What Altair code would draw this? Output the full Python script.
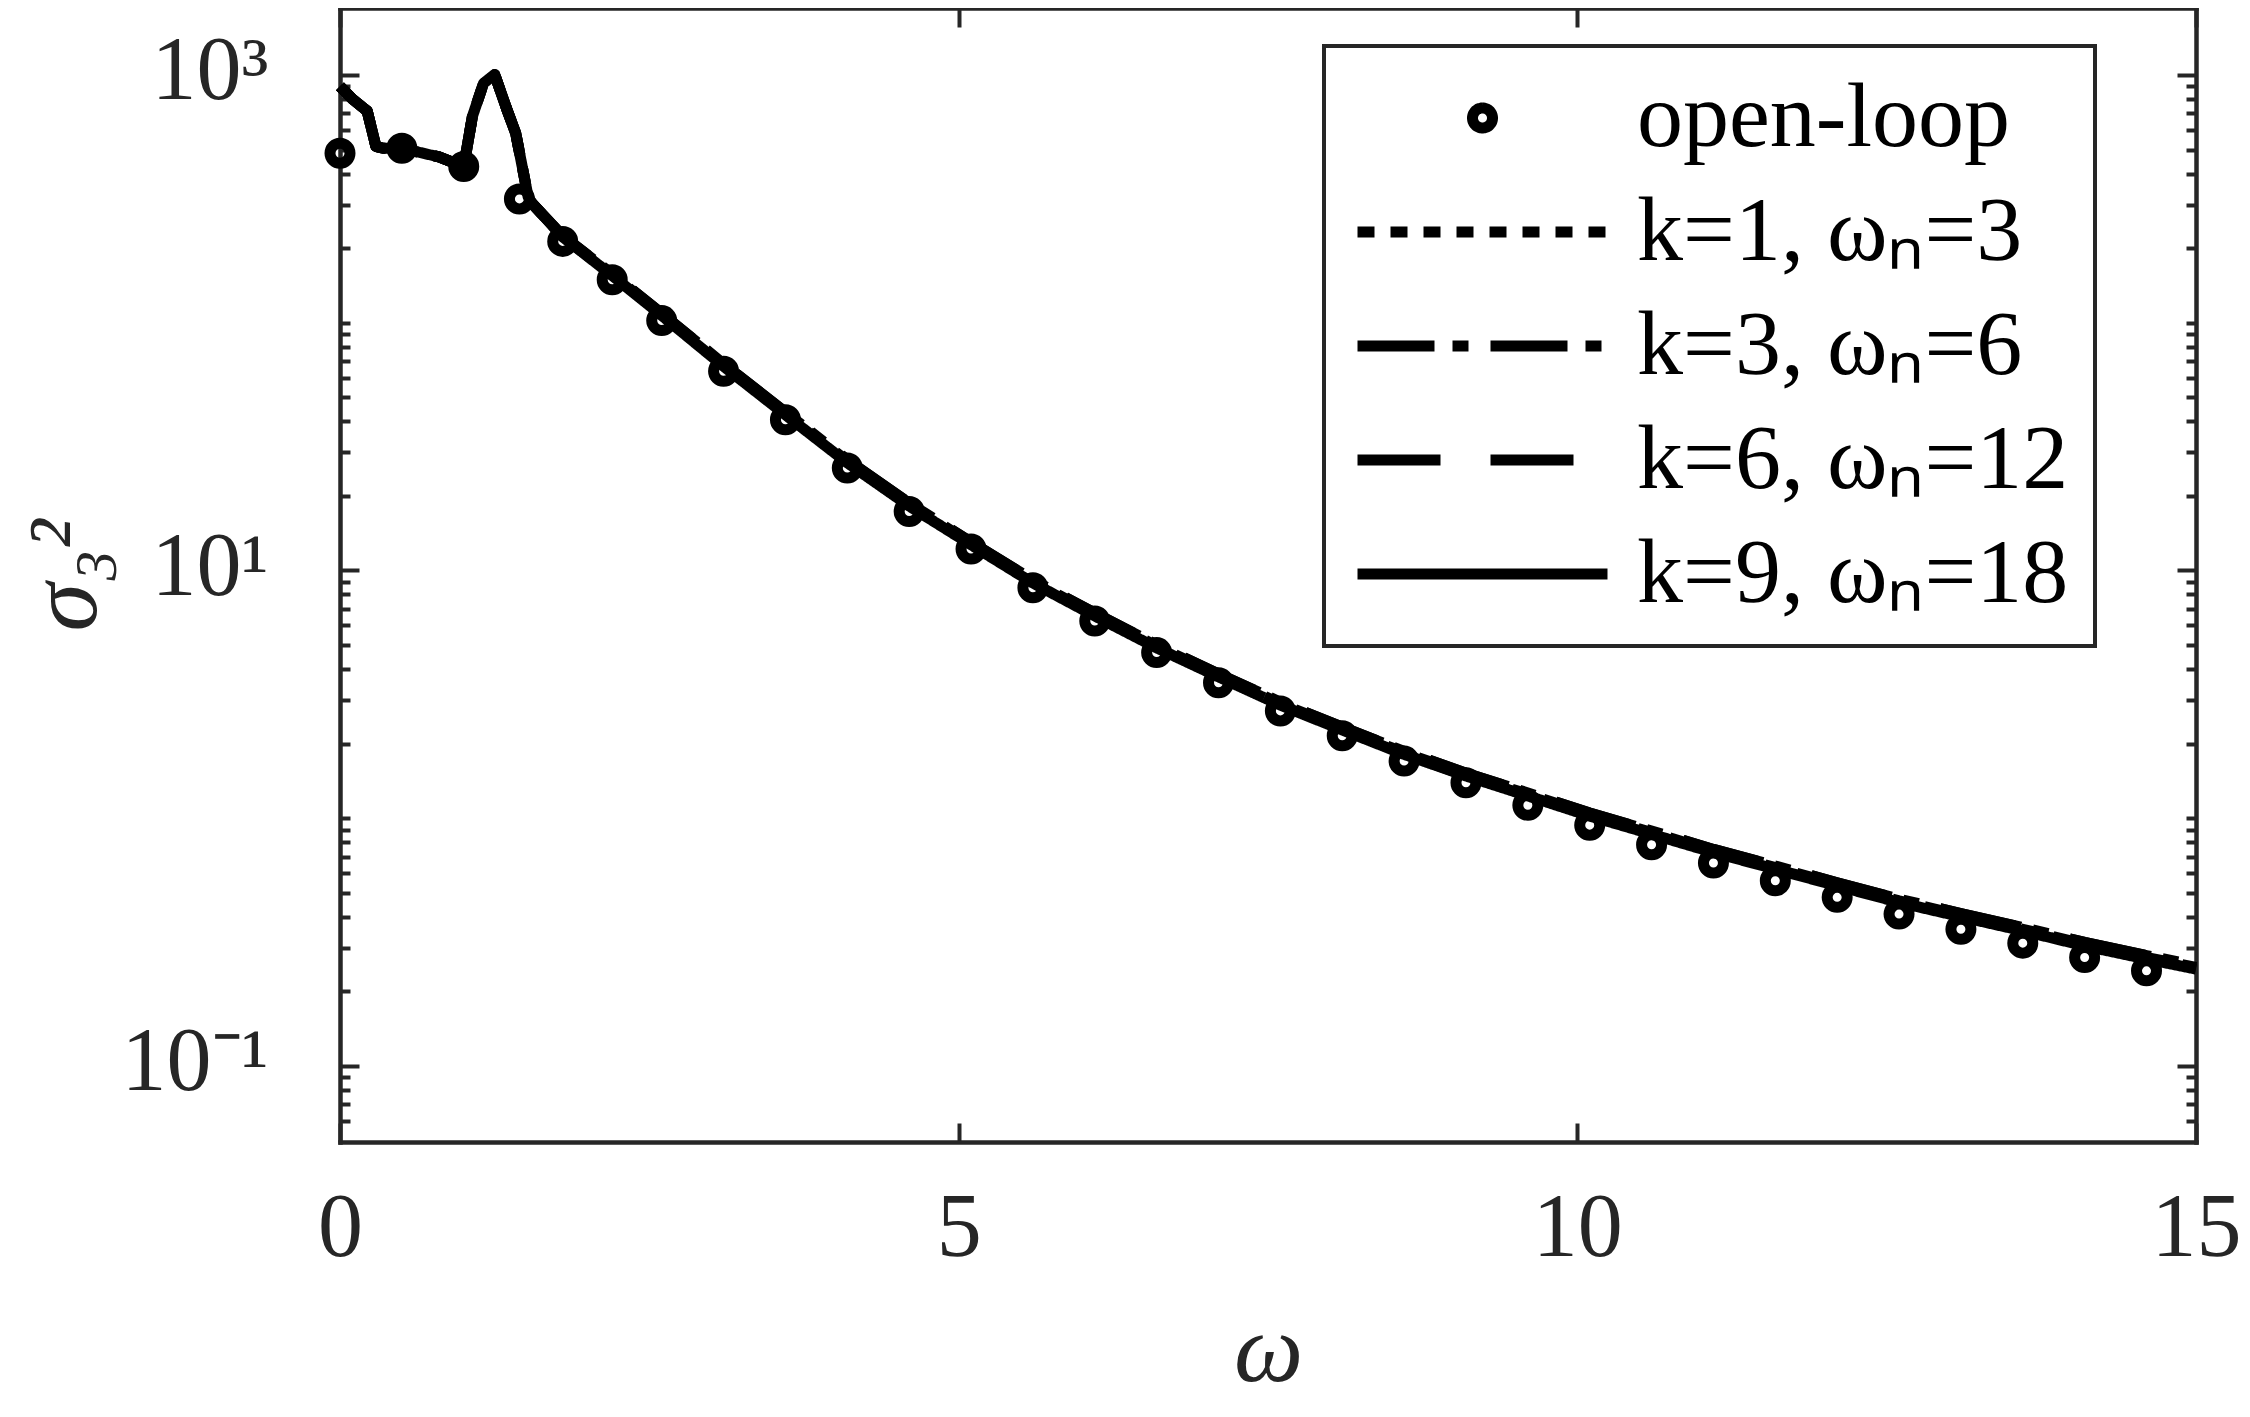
import altair as alt
import pandas as pd

# ---------------- data ----------------
omega_line = [0.0, 0.1, 0.22, 0.29, 0.35, 0.5, 0.8, 1.0, 1.07, 1.16, 1.25, 1.35, 1.42,
              1.52, 1.55, 1.8, 2.2, 2.6, 3.1, 3.6, 4.1, 4.6, 5.1, 5.6, 6.1, 6.6, 7.1,
              7.6, 8.1, 8.6, 9.1, 9.6, 10.1, 10.6, 11.1, 11.6, 12.1, 12.6, 13.1, 13.6,
              14.1, 14.6, 15.0]
sigma_k1 = [900, 800, 715, 515, 506, 506, 467, 427, 680, 926, 1005, 723, 582,
            323, 304, 223, 156, 108, 67.5, 43.0, 27.6, 18.5, 12.9, 9.05, 6.65, 4.95, 3.78,
            2.90, 2.30, 1.84, 1.50, 1.25, 1.035, 0.875, 0.738, 0.632, 0.541, 0.464, 0.406,
            0.356, 0.310, 0.274, 0.250]
sigma_k3 = [900, 800, 715, 515, 506, 506, 467, 427, 680, 926, 1005, 723, 582,
            323, 304, 224, 157, 109, 68.2, 43.5, 27.9, 18.7, 13.0, 9.15, 6.72, 5.00, 3.82,
            2.94, 2.33, 1.86, 1.52, 1.265, 1.05, 0.887, 0.748, 0.641, 0.549, 0.471, 0.412,
            0.362, 0.315, 0.279, 0.254]
sigma_k6 = [900, 800, 715, 515, 506, 506, 467, 427, 680, 926, 1005, 723, 582,
            323, 304, 224, 157, 109, 68.2, 43.5, 27.9, 18.7, 13.0, 9.15, 6.72, 5.00, 3.82,
            2.94, 2.33, 1.86, 1.52, 1.265, 1.05, 0.887, 0.748, 0.641, 0.549, 0.471, 0.412,
            0.362, 0.315, 0.279, 0.254]
sigma_k9 = [900, 800, 715, 515, 506, 506, 467, 427, 680, 926, 1005, 723, 582,
            323, 304, 222, 155, 107, 66.7, 42.5, 27.2, 18.2, 12.7, 8.9, 6.55, 4.87, 3.72,
            2.86, 2.27, 1.81, 1.48, 1.23, 1.02, 0.862, 0.727, 0.623, 0.533, 0.457, 0.40,
            0.351, 0.305, 0.270, 0.246]

omega_open = [0.0, 0.5, 1.0, 1.45, 1.8, 2.2, 2.6, 3.1, 3.6, 4.1, 4.6, 5.1, 5.6, 6.1,
              6.6, 7.1, 7.6, 8.1, 8.6, 9.1, 9.6, 10.1, 10.6, 11.1, 11.6, 12.1, 12.6,
              13.1, 13.6, 14.1, 14.6]
sigma_open = [483, 506, 427, 316, 213, 149, 102, 63.7, 40.6, 25.9, 17.3, 12.2, 8.51,
              6.25, 4.66, 3.52, 2.71, 2.15, 1.70, 1.39, 1.128, 0.937, 0.781, 0.659,
              0.559, 0.479, 0.410, 0.356, 0.313, 0.274, 0.242]

series_names = ["open-loop", "k=1, ωₙ=3", "k=3, ωₙ=6", "k=6, ωₙ=12", "k=9, ωₙ=18"]
line_series = series_names[1:]

x_ticks = [0, 5, 10, 15]
y_major = [0.1, 10, 1000]
y_major_labels = ["10⁻¹", "10¹", "10³"]
y_minor = [0.06, 0.07, 0.08, 0.09,
           0.2, 0.3, 0.4, 0.5, 0.6, 0.7, 0.8, 0.9,
           1, 2, 3, 4, 5, 6, 7, 8, 9,
           20, 30, 40, 50, 60, 70, 80, 90,
           100, 200, 300, 400, 500, 600, 700, 800, 900]

rows = []
for name, vals in zip(line_series, [sigma_k1, sigma_k3, sigma_k6, sigma_k9]):
    for w, s in zip(omega_line, vals):
        rows.append({"omega": w, "sigma": s, "series": name})
df_lines = pd.DataFrame(rows)
df_open = pd.DataFrame({"omega": omega_open, "sigma": sigma_open,
                        "series": ["open-loop"] * len(omega_open)})

# ---------------- styles ----------------
FONT = "Liberation Serif"
AXC = "#262626"
W, H = 1856, 1134
dash_patterns = [[1, 0], [17, 16], [77, 18, 16, 22], [83, 50], [1, 0]]
circle_path = "M-0.08,0A0.08,0.08 0 1,0 0.08,0A0.08,0.08 0 1,0 -0.08,0Z"
shapes = [circle_path, "stroke", "stroke", "stroke", "stroke"]

x_scale = alt.Scale(domain=[0, 15], nice=False, zero=False)
y_scale = alt.Scale(type="log", domain=[0.0493, 1864], nice=False)

major_test = " || ".join(f"datum.value == {v}" for v in y_major)
label_expr = " : ".join(f"datum.value == {v} ? '{l}'" for v, l in zip(y_major, y_major_labels)) + " : ''"
y_tick_size = {"condition": {"test": major_test, "value": -19}, "value": -10}

common = dict(grid=False, domainColor=AXC, domainWidth=4.5, domainCap="square",
              tickColor=AXC, tickWidth=4, labelFont=FONT, labelFontSize=90,
              labelColor=AXC, labelOverlap=False)

x_bottom = alt.Axis(orient="bottom", values=x_ticks, tickSize={"expr": "-19"},
                    labelPadding=61, labelFlush=False, labelAlign="center",
                    labelBaseline="top", format="d",
                    title="ω", titleFont=FONT, titleFontSize=98, titleFontStyle="italic",
                    titleFontWeight="normal", titleColor=AXC, titleY=238, titleX=W / 2,
                    titleBaseline="alphabetic", **common)
x_top = alt.Axis(orient="top", values=x_ticks, tickSize={"expr": "-19"},
                 labels=False, title=None, **common)
y_left = alt.Axis(orient="left", values=y_major + y_minor, labelExpr=label_expr,
                  tickSize=y_tick_size, labelPadding=91, labelAlign="right",
                  labelBaseline="middle", labelOffset=-3,
                  title="σ₃²", titleFont=FONT, titleFontSize=98, titleFontStyle="italic",
                  titleFontWeight="normal", titleColor=AXC, titleX=-245, titleY=567,
                  titleAngle=270, titleBaseline="alphabetic", **common)
y_right = alt.Axis(orient="right", values=y_major + y_minor, tickSize=y_tick_size,
                   labels=False, title=None, **common)

legend = alt.Legend(title=None, orient="none", legendX=984, legendY=38, padding=26,
                    symbolSize=62500, symbolStrokeWidth=11, symbolStrokeColor="black",
                    symbolFillColor="transparent", symbolOffset=2,
                    labelFont=FONT, labelFontSize=92, labelColor="black", labelLimit=0,
                    labelOffset=24, clipHeight=92, rowPadding=22,
                    strokeColor=AXC, fillColor="white")

points = alt.Chart(df_open).mark_point(
    filled=False, size=62500, strokeWidth=11, color="black", opacity=1
).encode(
    x=alt.X("omega:Q", scale=x_scale, axis=x_top),
    y=alt.Y("sigma:Q", scale=y_scale, axis=y_right),
    shape=alt.Shape("series:N", scale=alt.Scale(domain=series_names, range=shapes),
                    legend=legend),
)

lines = alt.Chart(df_lines).mark_line(
    strokeWidth=11, color="black", strokeCap="butt", strokeJoin="round"
).encode(
    x=alt.X("omega:Q", scale=x_scale, axis=x_bottom),
    y=alt.Y("sigma:Q", scale=y_scale, axis=y_left),
    strokeDash=alt.StrokeDash("series:N",
                              scale=alt.Scale(domain=series_names, range=dash_patterns),
                              legend=legend),
)

chart = (
    alt.layer(points, lines)
    .resolve_axis(x="independent", y="independent")
    .properties(width=W, height=H,
                padding={"left": 332, "top": 0, "right": 46, "bottom": 264},
                autosize=alt.AutoSizeParams(type="none"))
    .configure_view(strokeWidth=0)
    .configure_legend(strokeWidth=4, labelFont=FONT, labelFontSize=92, labelColor="black")
)

chart.save("out.html", embed_options={"renderer": "svg", "actions": False})
